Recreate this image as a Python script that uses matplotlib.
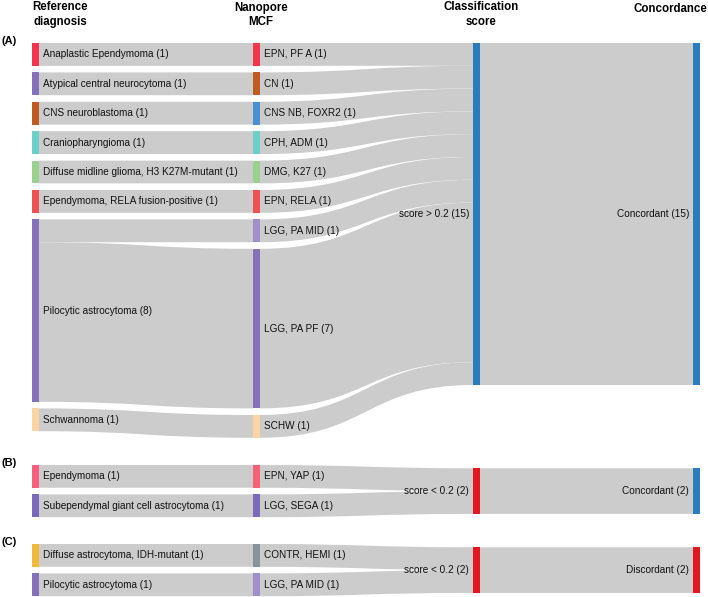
import matplotlib
matplotlib.use("Agg")
import matplotlib.pyplot as plt
from matplotlib.path import Path
from matplotlib.patches import PathPatch, Rectangle

plt.rcParams['font.family'] = ['Liberation Sans', 'DejaVu Sans']

# ---- panel A: score > 0.2, all concordant
ref_a = ["Anaplastic Ependymoma", "Atypical central neurocytoma", "CNS neuroblastoma",
         "Craniopharyngioma", "Diffuse midline glioma, H3 K27M-mutant",
         "Ependymoma, RELA fusion-positive", "Pilocytic astrocytoma", "Schwannoma"]
mcf_a = ["EPN, PF A", "CN", "CNS NB, FOXR2", "CPH, ADM", "DMG, K27", "EPN, RELA",
         "LGG, PA MID", "LGG, PA PF", "SCHW"]
score_a = ["score > 0.2"]
conc_a = ["Concordant"]
ref_mcf_a = [(0, 0, 1), (1, 1, 1), (2, 2, 1), (3, 3, 1), (4, 4, 1), (5, 5, 1),
             (6, 6, 1), (6, 7, 7), (7, 8, 1)]
mcf_score_a = [(0, 0, 1), (1, 0, 1), (2, 0, 1), (3, 0, 1), (4, 0, 1), (5, 0, 1),
               (6, 0, 1), (7, 0, 7), (8, 0, 1)]
score_conc_a = [(0, 0, 15)]

# ---- panel B: score < 0.2, concordant
ref_b = ["Ependymoma", "Subependymal giant cell astrocytoma"]
mcf_b = ["EPN, YAP", "LGG, SEGA"]
score_b = ["score < 0.2"]
conc_b = ["Concordant"]
ref_mcf_b = [(0, 0, 1), (1, 1, 1)]
mcf_score_b = [(0, 0, 1), (1, 0, 1)]
score_conc_b = [(0, 0, 2)]

# ---- panel C: score < 0.2, discordant
ref_c = ["Diffuse astrocytoma, IDH-mutant", "Pilocytic astrocytoma"]
mcf_c = ["CONTR, HEMI", "LGG, PA MID"]
score_c = ["score < 0.2"]
conc_c = ["Discordant"]
ref_mcf_c = [(0, 0, 1), (1, 1, 1)]
mcf_score_c = [(0, 0, 1), (1, 0, 1)]
score_conc_c = [(0, 0, 2)]

# colours
BLUE = "#2a7dbd"
RED = "#e3171f"
PURPLE = "#8371b9"
LIGHT_PURPLE = "#a18fcb"
ref_col_a = ["#f4344f", PURPLE, "#c05a23", "#6ad0c8", "#99d18e", "#ee5253", PURPLE, "#fdd5a4"]
mcf_col_a = ["#f4344f", "#c05a23", "#4a8fcf", "#6ad0c8", "#99d18e", "#ee5253",
             LIGHT_PURPLE, PURPLE, "#fdd5a4"]
ref_col_b = ["#f5607a", "#7b6abb"]
mcf_col_b = ["#f8607a", "#7b6abb"]
ref_col_c = ["#f0b93b", PURPLE]
mcf_col_c = ["#85959a", LIGHT_PURPLE]

UNIT = 22.8
GAP = 6.6
COL_X = [32, 253, 473, 693]
NODE_W = 7
LINK_COLOR = "#cccccc"
FS = 7.2

panels = [
    dict(tag="(A)", top=43, align="top",
         cols=[ref_a, mcf_a, score_a, conc_a],
         colors=[ref_col_a, mcf_col_a, [BLUE], [BLUE]],
         links=[ref_mcf_a, mcf_score_a, score_conc_a]),
    dict(tag="(B)", top=465, align="center",
         cols=[ref_b, mcf_b, score_b, conc_b],
         colors=[ref_col_b, mcf_col_b, [RED], [BLUE]],
         links=[ref_mcf_b, mcf_score_b, score_conc_b]),
    dict(tag="(C)", top=544, align="center",
         cols=[ref_c, mcf_c, score_c, conc_c],
         colors=[ref_col_c, mcf_col_c, [RED], [RED]],
         links=[ref_mcf_c, mcf_score_c, score_conc_c]),
]

fig = plt.figure(figsize=(7.08, 5.97), dpi=100)
ax = fig.add_axes([0, 0, 1, 1])
ax.set_xlim(0, 708)
ax.set_ylim(597, 0)
ax.axis('off')

for p in panels:
    cols = p["cols"]
    links = p["links"]
    vals = []
    for c in range(4):
        n = len(cols[c])
        out_v = [0] * n
        in_v = [0] * n
        if c < 3:
            for s, t, v in links[c]:
                out_v[s] += v
        if c > 0:
            for s, t, v in links[c - 1]:
                in_v[t] += v
        vals.append([max(a, b) for a, b in zip(out_v, in_v)])

    span0 = sum(vals[0]) * UNIT + (len(vals[0]) - 1) * GAP
    ys = []
    for c in range(4):
        h = sum(vals[c]) * UNIT + (len(vals[c]) - 1) * GAP
        y = p["top"]
        if c >= 2 and p["align"] == "center":
            y = p["top"] + (span0 - h) / 2
        pos = []
        for v in vals[c]:
            pos.append(y)
            y += v * UNIT + GAP
        ys.append(pos)

    # links
    for c in range(3):
        out_off = list(ys[c])
        in_off = list(ys[c + 1])
        x0 = COL_X[c] + NODE_W
        x1 = COL_X[c + 1]
        xm = (x0 + x1) / 2
        for s, t, v in links[c]:
            h = v * UNIT
            y0 = out_off[s]
            y1 = in_off[t]
            out_off[s] += h
            in_off[t] += h
            verts = [(x0, y0), (xm, y0), (xm, y1), (x1, y1),
                     (x1, y1 + h), (xm, y1 + h), (xm, y0 + h), (x0, y0 + h), (x0, y0)]
            codes = [Path.MOVETO, Path.CURVE4, Path.CURVE4, Path.CURVE4,
                     Path.LINETO, Path.CURVE4, Path.CURVE4, Path.CURVE4, Path.CLOSEPOLY]
            ax.add_patch(PathPatch(Path(verts, codes), facecolor=LINK_COLOR,
                                   edgecolor='none', zorder=1))

    # nodes + labels
    for c in range(4):
        for name, v, y, col in zip(cols[c], vals[c], ys[c], p["colors"][c]):
            h = v * UNIT
            ax.add_patch(Rectangle((COL_X[c], y), NODE_W, h, facecolor=col,
                                   edgecolor='none', zorder=2))
            label = "{} ({})".format(name, v)
            if c < 2:
                ax.text(COL_X[c] + NODE_W + 4, y + h / 2, label, ha='left', va='center',
                        fontsize=FS, color='#111111', zorder=3)
            else:
                ax.text(COL_X[c] - 4, y + h / 2, label, ha='right', va='center',
                        fontsize=FS, color='#111111', zorder=3)

    ax.text(1, p["top"] - 2, p["tag"], ha='left', va='center', fontsize=8,
            fontweight='bold')

# column headers
headers = ["Reference\ndiagnosis", "Nanopore\nMCF", "Classification\nscore", "Concordance"]
header_x = [60, 261, 481, 670]
header_y = [1.5, 1.5, 1.5, 3.5]
for txt, hx, hy in zip(headers, header_x, header_y):
    ax.text(hx, hy, txt, ha='center', va='top', fontsize=8.3, fontweight='bold',
            linespacing=1.3)

fig.savefig("out.png", dpi=100)
